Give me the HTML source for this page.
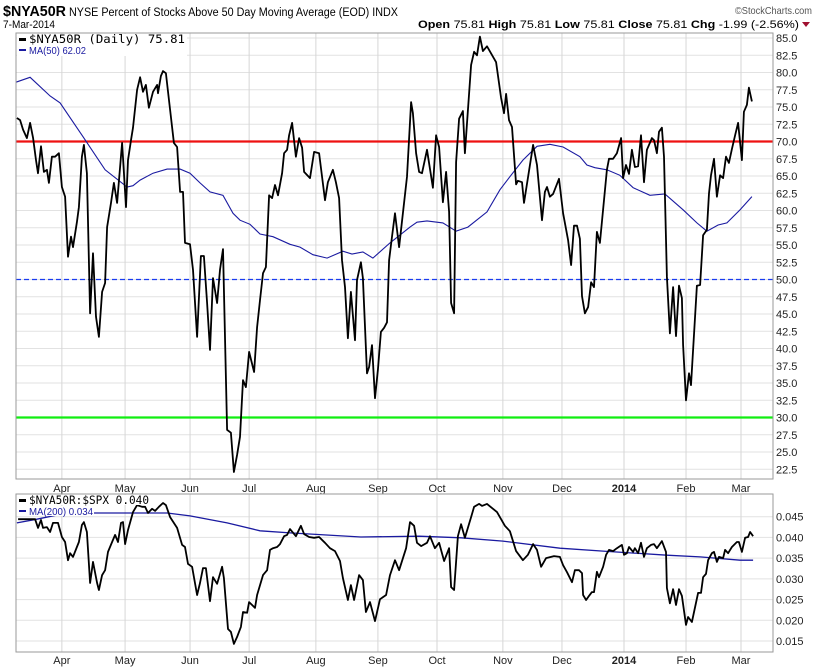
<!DOCTYPE html>
<html><head><meta charset="utf-8"><style>
body{margin:0;background:#fff;}
svg{display:block;font-family:"Liberation Sans",sans-serif;}
</style></head><body>
<svg id="chart" width="820" height="668" viewBox="0 0 820 668" xmlns="http://www.w3.org/2000/svg">
<rect x="0" y="0" width="820" height="668" fill="#fff"/>
<g>
<text x="3" y="16" font-size="15" font-weight="bold" textLength="63" lengthAdjust="spacingAndGlyphs">$NYA50R</text>
<text x="69" y="16" font-size="11.5" textLength="329" lengthAdjust="spacingAndGlyphs">NYSE Percent of Stocks Above 50 Day Moving Average (EOD)  INDX</text>
<text x="3" y="28" font-size="11" textLength="52" lengthAdjust="spacingAndGlyphs">7-Mar-2014</text>
<text x="735" y="14" font-size="10.5" fill="#555" textLength="77" lengthAdjust="spacingAndGlyphs">©StockCharts.com</text>
<text x="418" y="28" font-size="11" textLength="381" lengthAdjust="spacingAndGlyphs"><tspan font-weight="bold">Open</tspan> 75.81 <tspan font-weight="bold">High</tspan> 75.81 <tspan font-weight="bold">Low</tspan> 75.81 <tspan font-weight="bold">Close</tspan> 75.81 <tspan font-weight="bold">Chg</tspan> -1.99 (-2.56%)</text>
<path d="M802,22 L810,22 L806,27 Z" fill="#a01030"/>
</g>
<g id="mainPanel"></g>
<g id="ratioPanel"></g>
</svg>
<script>
// ---- data ----
const monthLabels = ["Apr","May","Jun","Jul","Aug","Sep","Oct","Nov","Dec","2014","Feb","Mar"];
const monthDays = [15.6,37.1,59.2,79.3,102.0,123.1,143.2,165.6,185.7,206.8,227.9,246.6];
const mainTicks = [22.5,25,27.5,30,32.5,35,37.5,40,42.5,45,47.5,50,52.5,55,57.5,60,62.5,65,67.5,70,72.5,75,77.5,80,82.5,85];
const ratioTicks = [0.015,0.020,0.025,0.030,0.035,0.040,0.045];
const refLevels = [70,50,30];
const mainDays = [0.3,1.4,2.4,3.7,4.8,5.8,6.8,7.5,8.5,9.5,10.5,11.2,12.2,13.3,14.6,15.6,16.7,17.7,18.7,19.4,20.7,21.4,22.4,23.1,24.1,25.2,26.2,27.2,28.2,29.3,30.3,31.0,32.3,33.3,34.4,36.1,37.4,38.1,39.1,39.8,41.2,42.2,43.2,44.2,45.2,46.6,48.0,48.3,49.3,50.0,51.0,52.4,53.7,54.8,55.8,56.8,57.5,59.2,60.2,61.6,62.9,63.9,65.0,66.0,67.0,68.4,69.4,70.4,71.8,73.1,74.1,75.2,76.2,77.2,78.2,79.3,81.0,82.0,83.0,84.0,85.0,86.1,87.1,88.1,89.1,90.5,91.2,92.2,92.9,93.9,95.2,96.3,97.3,98.0,100.0,101.4,103.1,105.1,106.1,107.8,108.8,109.9,110.9,111.9,112.9,113.9,115.3,116.0,117.3,118.0,119.4,120.1,121.1,122.1,123.1,124.1,125.2,126.2,126.9,127.9,128.9,130.3,133.0,134.4,135.0,136.1,137.1,138.1,139.8,141.8,142.9,143.9,145.2,146.3,147.3,148.0,149.0,149.7,150.7,152.0,152.7,154.8,155.8,156.8,157.8,158.8,160.2,163.3,165.0,166.0,166.7,167.7,168.7,170.1,170.7,172.1,172.8,175.9,177.2,178.9,179.9,180.6,181.6,182.7,184.7,186.1,187.8,188.8,189.8,190.8,191.8,192.5,193.5,194.6,195.6,196.6,197.6,198.6,201.0,201.7,203.1,204.4,205.8,206.5,207.5,208.5,209.5,210.5,211.6,212.6,213.6,214.6,216.3,217.0,218.0,218.7,219.7,220.4,221.4,222.4,223.5,224.5,225.5,226.5,226.9,227.9,228.9,229.6,231.6,232.7,233.7,235.0,235.7,236.4,237.4,238.4,239.5,240.5,241.5,242.5,243.5,244.6,245.6,246.9,247.6,248.6,249.3,250.3];
const mainVals = [73.4,73.1,71.7,70.5,72.7,70.5,67.3,65.4,69.3,65.6,65.9,64.0,67.8,67.8,68.3,63.4,62.0,53.3,56.2,54.7,58.3,60.5,67.8,69.5,65.4,45.1,53.8,44.6,41.7,48.2,49.5,57.6,61.1,64.0,61.1,69.8,60.5,67.3,70.2,72.0,77.5,79.3,77.2,78.2,74.9,77.2,78.2,77.0,79.5,80.2,79.9,74.6,69.8,69.2,62.7,62.7,55.3,55.1,51.4,41.7,53.4,53.4,46.6,39.8,50.2,46.6,51.4,54.4,28.2,27.8,22.1,24.6,27.2,35.4,34.4,39.5,36.6,43.1,47.0,50.9,51.8,62.2,61.8,63.7,62.2,65.4,68.3,68.8,70.9,72.7,67.8,70.5,69.1,65.6,64.7,68.5,68.3,61.5,64.1,65.9,64.1,61.8,52.8,48.9,41.5,48.2,41.2,49.9,52.5,50.2,36.4,37.3,40.5,32.8,36.9,42.4,43.0,43.8,52.8,56.2,59.6,54.7,64.9,75.7,74.1,68.3,65.6,65.4,68.8,63.3,70.9,69.2,61.2,65.6,59.8,46.6,45.1,67.0,73.3,74.4,68.3,81.1,83.0,82.5,85.2,83.1,83.8,81.5,76.3,74.1,76.9,73.1,72.1,63.8,64.3,64.1,61.1,69.5,66.6,58.6,62.7,63.4,62.0,62.4,64.6,59.6,55.7,52.1,57.8,57.8,55.9,47.6,45.1,46.0,49.6,48.9,56.9,55.3,65.9,67.5,67.5,68.3,70.5,64.7,66.6,65.3,68.8,66.3,66.4,70.9,64.1,68.8,70.5,70.2,68.3,71.4,72.0,67.8,50.4,42.2,48.9,41.8,49.1,47.3,40.5,32.5,36.4,34.7,49.1,49.2,56.4,57.2,62.5,65.1,67.5,62.0,65.1,64.7,67.8,66.9,68.9,70.9,72.7,67.3,74.3,75.3,77.8,75.81];
const maDays = [0,4.8,11.6,15.0,22.8,30.3,37.8,39.8,42.2,46.6,51.4,55.8,59.2,62.6,66.0,70.4,73.8,76.2,79.6,83.0,87.4,93.2,96.6,101.0,105.8,111.2,114.3,118.0,121.4,127.2,134.0,136.4,139.8,145.2,149.7,153.7,160.2,164.6,168.0,172.4,177.2,181.6,186.1,191.8,194.2,196.9,201.0,205.4,209.9,215.6,220.7,226.9,231.6,235.0,238.8,241.8,246.3,250.3];
const maVals = [78.6,79.3,76.6,75.6,70.7,65.9,63.4,63.6,64.4,65.4,66.0,66.0,65.4,64.0,62.7,62.2,59.6,58.6,58.0,56.6,56.2,55.1,54.7,53.6,53.1,54.1,53.7,54.0,53.1,55.3,57.6,58.3,58.5,58.2,57.0,57.6,59.8,63.0,64.9,67.3,69.3,69.6,69.2,67.8,66.6,66.2,65.9,65.1,63.3,62.2,62.4,60.1,58.2,57.0,57.9,58.2,60.1,62.02];
const ratioDays = [0.7,6.5,7.5,8.5,9.2,10.5,11.6,12.6,14.3,15.6,16.7,17.7,18.4,19.4,20.7,21.4,22.4,23.1,24.1,25.2,26.2,27.6,28.2,29.3,30.3,31.3,32.7,33.7,34.7,35.7,36.4,37.1,38.1,39.8,41.2,42.9,43.9,44.9,46.3,47.3,48.6,50.0,51.0,52.4,54.8,56.5,57.5,58.5,59.9,61.6,62.6,63.6,64.6,66.0,67.0,68.4,70.1,70.7,72.1,73.1,74.1,75.2,76.5,77.2,78.6,79.3,80.3,81.3,82.0,84.0,85.4,86.4,87.4,88.8,89.8,91.2,92.2,93.2,95.2,96.9,98.0,99.7,101.4,103.1,105.1,106.8,108.5,110.2,111.2,112.9,113.9,115.0,116.7,118.0,119.0,120.4,122.1,123.8,125.9,127.2,128.9,130.3,132.7,134.0,135.4,136.4,137.8,139.8,140.8,142.5,143.9,145.6,147.3,148.0,149.0,150.3,151.4,152.7,154.8,155.8,157.5,158.5,160.2,163.6,166.3,168.0,170.1,172.4,174.1,175.9,177.2,178.6,180.3,183.0,185.0,186.1,187.4,189.1,190.1,191.5,192.5,192.9,193.9,194.9,195.9,196.6,197.6,198.3,199.7,200.7,201.7,203.1,204.4,206.1,206.8,207.8,208.5,209.9,210.5,211.6,212.6,213.6,214.6,216.0,217.0,218.0,219.7,221.1,221.4,222.4,223.5,224.5,225.5,226.5,227.9,228.6,229.9,231.0,232.0,233.0,233.7,234.7,235.4,236.7,237.4,238.4,239.1,240.5,241.2,242.2,243.5,245.2,245.9,246.9,248.0,249.0,249.7,250.7];
const ratioVals = [0.0444,0.0444,0.0423,0.0442,0.0423,0.0425,0.0413,0.0435,0.0435,0.0401,0.0389,0.0345,0.0362,0.0353,0.0377,0.0389,0.0430,0.0437,0.0413,0.0290,0.0341,0.0290,0.0273,0.0309,0.0321,0.0365,0.0389,0.0406,0.0389,0.0435,0.0437,0.0384,0.0418,0.0461,0.0478,0.0474,0.0474,0.0459,0.0469,0.0464,0.0474,0.0483,0.0478,0.0449,0.0423,0.0382,0.0377,0.0336,0.0329,0.0261,0.0290,0.0326,0.0326,0.0246,0.0304,0.0288,0.0329,0.0302,0.0179,0.0172,0.0143,0.0160,0.0184,0.0220,0.0218,0.0244,0.0237,0.0230,0.0261,0.0309,0.0321,0.0370,0.0374,0.0377,0.0384,0.0403,0.0406,0.0420,0.0403,0.0428,0.0408,0.0401,0.0399,0.0401,0.0387,0.0374,0.0367,0.0343,0.0302,0.0249,0.0285,0.0249,0.0309,0.0297,0.0220,0.0244,0.0198,0.0251,0.0261,0.0309,0.0345,0.0321,0.0374,0.0437,0.0428,0.0387,0.0379,0.0387,0.0403,0.0374,0.0387,0.0343,0.0374,0.0280,0.0273,0.0403,0.0432,0.0399,0.0449,0.0474,0.0481,0.0476,0.0481,0.0461,0.0428,0.0415,0.0367,0.0345,0.0358,0.0384,0.0370,0.0329,0.0350,0.0355,0.0353,0.0333,0.0316,0.0292,0.0321,0.0321,0.0314,0.0261,0.0249,0.0259,0.0268,0.0268,0.0317,0.0304,0.0329,0.0358,0.0370,0.0367,0.0374,0.0382,0.0358,0.0362,0.0377,0.0365,0.0374,0.0362,0.0387,0.0353,0.0374,0.0382,0.0384,0.0374,0.0391,0.0365,0.0278,0.0241,0.0275,0.0237,0.0275,0.0259,0.0189,0.0208,0.0196,0.0232,0.0266,0.0266,0.0304,0.0312,0.0345,0.0362,0.0365,0.0341,0.0353,0.0350,0.0370,0.0362,0.0377,0.0389,0.0389,0.0365,0.0399,0.0401,0.0413,0.0403];
const ma200Days = [0.3,7.1,17.3,42.2,51.4,59.2,71.8,83.0,93.2,117.3,137.1,151.4,165.6,185.0,199.7,221.4,232.7,246.3,250.7];
const ma200Vals = [0.0435,0.0444,0.0459,0.0459,0.0459,0.0452,0.0435,0.0416,0.0411,0.0401,0.0403,0.0399,0.0391,0.0374,0.0367,0.0357,0.0353,0.0345,0.0345];

// ---- scales ----
const L = 16, R = 773;
const xS = d => L + d * 2.94;
const yMain = v => 38 + (85 - v) * 6.9;
const yRatio = v => 516.7 + (0.045 - v) * 4144;
const NS = "http://www.w3.org/2000/svg";
function mk(tag, attrs, parent){ const e=document.createElementNS(NS,tag); for(const k in attrs) e.setAttribute(k,attrs[k]); parent.appendChild(e); return e; }
function pathFrom(xs, ys, yf){ return xs.map((d,i)=>(i?"L":"M")+xS(d).toFixed(1)+","+yf(ys[i]).toFixed(1)).join(""); }

function panel(g, top, bottom, ticks, yf, fmt, labelY, prefix){
  for(const t of ticks){
    const y=yf(t);
    const gl=mk("line",{x1:L,x2:R,y1:y,y2:y,stroke:"#e2e2e2","stroke-width":1},g);
    
    
    const tl=mk("text",{x:R+3,y:y+4,"font-size":11,fill:"#222"},g);
    
    
    tl.textContent=fmt(t);
  }
  monthDays.forEach((d,i)=>{
    const x=xS(d);
    const vl=mk("line",{x1:x,x2:x,y1:top,y2:bottom,stroke:"#d6d6d6","stroke-width":1},g);
    
    
    const ml=mk("text",{x:x,y:labelY,"font-size":11,"text-anchor":"middle",fill:"#222","font-weight":monthLabels[i]==="2014"?"bold":"normal"},g);
    
    
    ml.textContent=monthLabels[i];
  });
}

// main panel
const gm=document.getElementById("mainPanel");
panel(gm,33,479,mainTicks,yMain,v=>v.toFixed(1),492,'main');
const refColors=["#ee1111","#1a3cf0","#11ee11"];
refLevels.forEach((lv,i)=>{
  const y=yMain(lv);
  const a={x1:L,x2:R,y1:y,y2:y,stroke:refColors[i],"stroke-width":i===1?1.2:2.2};
  if(i===1) a["stroke-dasharray"]="5,3";
  const rl=mk("line",a,gm);
  
  
});
const maLine=mk("path",{d:pathFrom(maDays,maVals,yMain),fill:"none",stroke:"#1a1aa0","stroke-width":1.1},gm);


const mainLine=mk("path",{d:pathFrom(mainDays,mainVals,yMain),fill:"none",stroke:"#000","stroke-width":1.8,"stroke-linejoin":"round"},gm);


const mb=mk("rect",{x:L,y:33,width:R-L,height:446,fill:"none",stroke:"#9a9a9a","stroke-width":1},gm);


// main legend
const lg1=mk("g",{},gm);


mk("rect",{x:17,y:34,width:170,height:22,fill:"#fff"},lg1);
mk("rect",{x:19,y:38,width:7,height:3,fill:"#000"},lg1);
const lt1=mk("text",{x:29,y:43,"font-size":11.5,"font-family":"DejaVu Sans Mono, monospace",textLength:156,lengthAdjust:"spacingAndGlyphs"},lg1);


lt1.textContent="$NYA50R (Daily) 75.81";
mk("rect",{x:19,y:49,width:7,height:2,fill:"#1a1aa0"},lg1);
const lt2=mk("text",{x:29,y:54,"font-size":10.5,fill:"#1a1aa0",textLength:57,lengthAdjust:"spacingAndGlyphs"},lg1);


lt2.textContent="MA(50) 62.02";

// ratio panel
const gr=document.getElementById("ratioPanel");
panel(gr,494,652,ratioTicks,yRatio,v=>v.toFixed(3),664,'ratio');
const ma200Line=mk("path",{d:pathFrom(ma200Days,ma200Vals,yRatio),fill:"none",stroke:"#1a1aa0","stroke-width":1.3},gr);


const ratioLine=mk("path",{d:pathFrom(ratioDays,ratioVals,yRatio),fill:"none",stroke:"#000","stroke-width":1.8,"stroke-linejoin":"round"},gr);


const rb=mk("rect",{x:L,y:494,width:R-L,height:158,fill:"none",stroke:"#9a9a9a","stroke-width":1},gr);


const lg2=mk("g",{},gr);


mk("rect",{x:17,y:495,width:132,height:10,fill:"#fff"},lg2);
mk("rect",{x:19,y:499,width:7,height:3,fill:"#000"},lg2);
const lt3=mk("text",{x:29,y:504,"font-size":11.5,"font-family":"DejaVu Sans Mono, monospace",textLength:120,lengthAdjust:"spacingAndGlyphs"},lg2);


lt3.textContent="$NYA50R:$SPX 0.040";
mk("rect",{x:28,y:506,width:66,height:10,fill:"#fff"},lg2);
mk("rect",{x:19,y:510,width:7,height:2,fill:"#1a1aa0"},lg2);
const lt4=mk("text",{x:29,y:515,"font-size":10.5,fill:"#1a1aa0",textLength:64,lengthAdjust:"spacingAndGlyphs"},lg2);


lt4.textContent="MA(200) 0.034";
</script>
</body></html>
